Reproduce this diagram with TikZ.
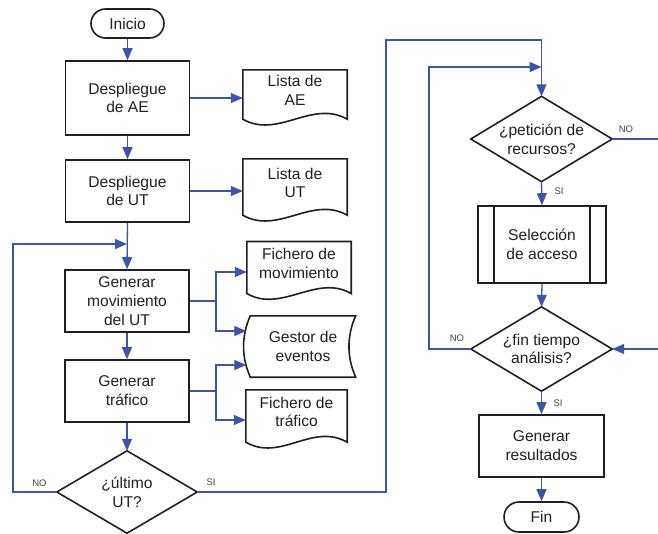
\documentclass[tikz,border=0pt]{standalone}
\usepackage{fontspec}
\setmainfont{Liberation Sans}
\usetikzlibrary{arrows.meta}
\definecolor{flowblue}{HTML}{3D54AB}
\definecolor{ink}{HTML}{231F20}

% document symbol: flat top, wavy bottom
\newcommand\docframe[1]{%
  \draw[outline] ([shift={(0,8)}]#1.south west) -- (#1.north west) -- (#1.north east)
    -- ([shift={(0,8)}]#1.south east)
    .. controls ([shift={(-35,-12)}]#1.south east) and ([shift={(35,28)}]#1.south west)
    .. ([shift={(0,8)}]#1.south west) -- cycle;}
% decision symbol drawn on the anchors of a plain node
\newcommand\decframe[1]{%
  \draw[outline] (#1.north) -- (#1.east) -- (#1.south) -- (#1.west) -- cycle;}

\begin{document}
\begin{tikzpicture}[x=1pt,y=-1pt,
  every node/.style={font=\fontsize{15.6}{18.8}\selectfont, text=ink, align=center, inner sep=0pt},
  outline/.style={draw=ink, line width=1.6pt, line join=miter},
  process/.style={outline, rectangle, minimum width=124pt},
  terminal/.style={outline, rectangle, rounded corners=14.5pt, minimum height=29pt},
  plain/.style={rectangle},
  flow/.style={draw=flowblue, line width=1.3pt, -{Triangle[length=12pt,width=10pt]}},
  link/.style={draw=flowblue, line width=1.3pt},
  tag/.style={font=\fontsize{9.5}{11}\selectfont, text=ink!85}
]
\useasboundingbox (0,0) rectangle (658,533);
\fill[white] (0,0) rectangle (658,533);
\clip (0,0) rectangle (658,533);

% ---- left column ----
\node[terminal, minimum width=73pt] (ini) at (127.5,23.5) {Inicio};
\node[process, minimum height=74pt] (dae) at (127.5,98) {Despliegue\\de AE};
\node[process, minimum height=62pt] (dut) at (127.5,191) {Despliegue\\de UT};
\node[process, minimum height=62pt] (gmov) at (127,301) {Generar\\movimiento\\del UT};
\node[process, minimum height=62pt] (gtraf) at (127,391) {Generar\\tráfico};
\node[plain, minimum width=140pt, minimum height=82pt] (ult) at (127,492) {¿último\\UT?};
\decframe{ult}

% ---- outputs ----
\node[plain, minimum width=104pt, minimum height=41pt] (lae) at (295,90.5) {Lista de\\AE};
\docframe{lae}
\node[plain, minimum width=104pt, minimum height=48pt] (lut) at (295,183) {Lista de\\UT};
\docframe{lut}
\node[plain, minimum width=104pt, minimum height=43.6pt] (fmov) at (299,263.5) {Fichero de\\movimiento};
\docframe{fmov}
\node[plain, minimum width=101pt, minimum height=44pt] (ftraf) at (296.5,412) {Fichero de\\tráfico};
\docframe{ftraf}
\node[plain, minimum width=105pt, minimum height=61pt] (gest) at (303,346.5) {Gestor de\\eventos};
\draw[outline] (gest.north west) -- (gest.north east)
  .. controls ([shift={(-9,20)}]gest.north east) and ([shift={(-9,-20)}]gest.south east) .. (gest.south east)
  -- (gest.south west)
  .. controls ([shift={(-9,-20)}]gest.south west) and ([shift={(-9,20)}]gest.north west) .. cycle;

% ---- right column ----
\node[plain, minimum width=141pt, minimum height=85pt] (pet) at (541.5,139) {¿petición de\\recursos?};
\decframe{pet}
\node[process, minimum width=128pt, minimum height=77pt] (sel) at (542,244.5) {Selección\\de acceso};
\draw[outline] ([xshift=17pt]sel.north west) -- ([xshift=17pt]sel.south west);
\draw[outline] ([xshift=-17pt]sel.north east) -- ([xshift=-17pt]sel.south east);
\node[plain, minimum width=141pt, minimum height=84pt] (fint) at (541.5,349) {¿fin tiempo\\análisis?};
\decframe{fint}
\node[process, minimum width=125pt, minimum height=62pt] (gres) at (541.5,446) {Generar\\resultados};
\node[terminal, minimum width=75pt, minimum height=30pt, rounded corners=15pt] (fin) at (541.5,517) {Fin};

% ---- branch labels ----
\node[tag] (noUlt) at (39.5,483) {NO};
\node[tag] (siUlt) at (211,482) {SI};
\node[tag] (noPet) at (626,129) {NO};
\node[tag] (siPet) at (559,191) {SI};
\node[tag] (noFin) at (457,338) {NO};
\node[tag] (siFin) at (558,403) {SI};

% ---- routing points ----
\coordinate (lA) at (13,244);
\coordinate (j1) at (216,301);
\coordinate (j2) at (216,391);
\coordinate (sR) at (386,40);
\coordinate (lB) at (429,67);
\coordinate (rE) at (672,139);

% ---- main flow ----
\draw[flow] (ini.south) -- (dae.north);
\draw[flow] (dae.south) -- (dut.north);
\draw[flow] (dut.south) -- (gmov.north);
\draw[flow] (gmov.south) -- (gtraf.north);
\draw[flow] (gtraf.south) -- (ult.north);
\draw[flow] (ult.west) -| (lA) -- (lA -| gmov.north);
\draw[flow] (ult.east) -| (sR) -| (pet.north);

% ---- outputs ----
\draw[flow] (dae.east) -- (dae.east -| lae.west);
\draw[flow] (dut.east) -- (dut.east -| lut.west);
\draw[link] (gmov.east) -- (j1);
\draw[flow] (j1) |- ([shift={(0,8.5)}]fmov.west);
\draw[flow] (j1) |- ([shift={(-4,-15.5)}]gest.west);
\draw[link] (gtraf.east) -- (j2);
\draw[flow] (j2) |- ([shift={(-4,18.5)}]gest.west);
\draw[flow] (j2) |- ([shift={(0,8)}]ftraf.west);

% ---- right column flow ----
\draw[flow] (pet.south) -- (sel.north);
\draw[flow] (sel.south) -- (fint.north);
\draw[flow] (fint.south) -- (gres.north);
\draw[flow] (gres.south) -- (fin.north);
\draw[flow] (fint.west) -| (lB) -- (lB -| pet.north);
\draw[link] (pet.east) -- (rE);
\draw[flow] (rE) |- (fint.east);
\end{tikzpicture}
\end{document}
